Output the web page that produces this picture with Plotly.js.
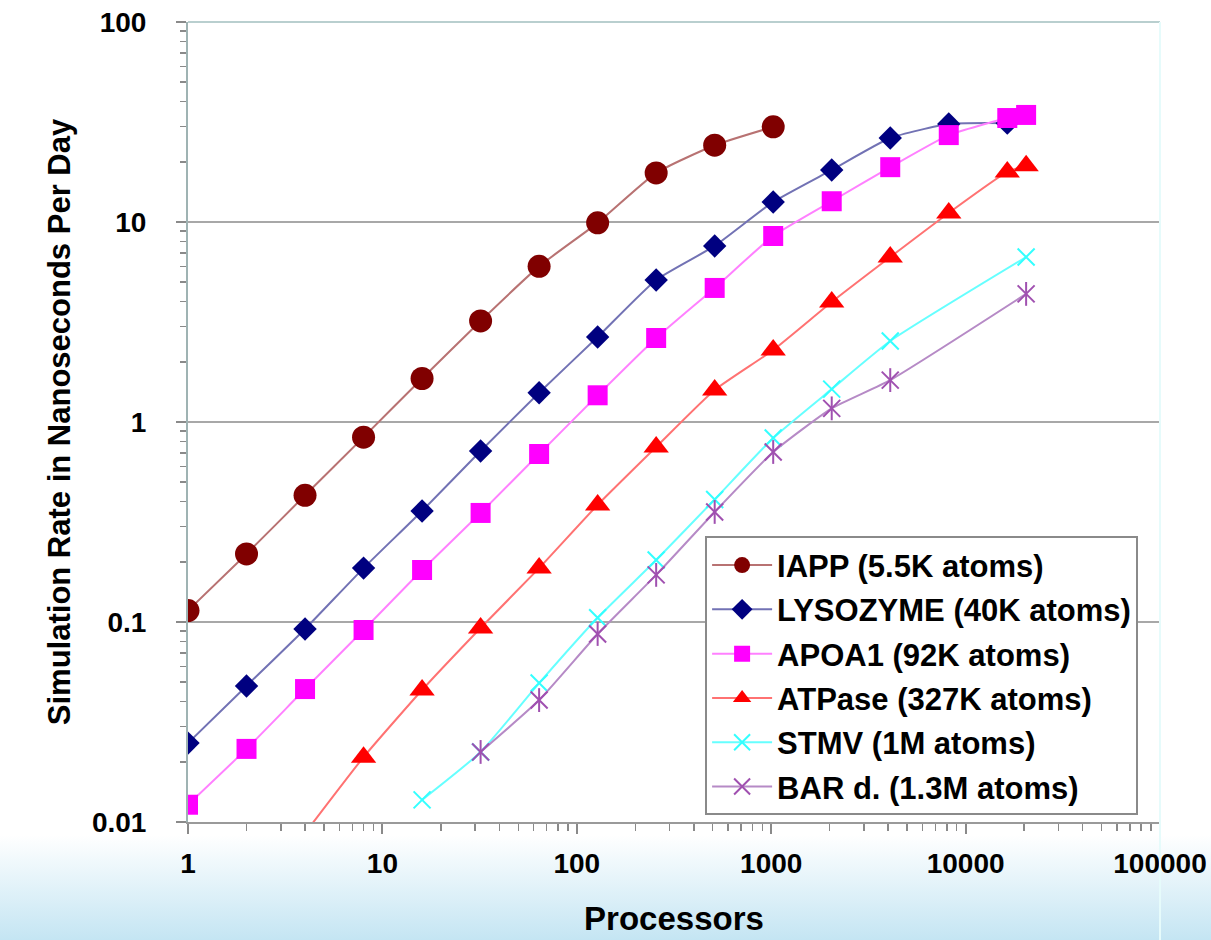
<!DOCTYPE html>
<html>
<head>
<meta charset="utf-8">
<script src="https://cdn.plot.ly/plotly-3.0.1.min.js"></script>
<style>
  html, body { margin: 0; padding: 0; }
  body {
    width: 1211px; height: 940px; overflow: hidden;
    background: linear-gradient(to bottom, #ffffff 0px, #ffffff 835px, #c4e5f3 940px);
  }
  #chart { width: 1211px; height: 940px; }
</style>
</head>
<body>
<div id="chart"></div>
<script>
// ---- data ----
const seriesNames = [
  'IAPP (5.5K atoms)',
  'LYSOZYME (40K atoms)',
  'APOA1 (92K atoms)',
  'ATPase (327K atoms)',
  'STMV (1M atoms)',
  'BAR d. (1.3M atoms)'
];

const procIAPP = [1, 2, 4, 8, 16, 32, 64, 128, 256, 512, 1024];
const rateIAPP = [0.114, 0.219, 0.43, 0.84, 1.65, 3.2, 6.0, 9.9, 17.6, 24.2, 29.9];

const procLYSO = [1, 2, 4, 8, 16, 32, 64, 128, 256, 512, 1024, 2048, 4096, 8192, 16384];
const rateLYSO = [0.0248, 0.0479, 0.0923, 0.186, 0.359, 0.716, 1.40, 2.66, 5.13, 7.59, 12.6, 18.2, 26.3, 30.9, 31.2];

const procAPOA1 = [1, 2, 4, 8, 16, 32, 64, 128, 256, 512, 1024, 2048, 4096, 8192, 16384, 20480];
const rateAPOA1 = [0.0122, 0.0232, 0.0462, 0.0912, 0.182, 0.351, 0.692, 1.36, 2.63, 4.68, 8.51, 12.7, 18.8, 27.2, 33.1, 34.3];

const procATP = [4, 8, 16, 32, 64, 128, 256, 512, 1024, 2048, 4096, 8192, 16384, 20480];
const rateATP = [0.0088, 0.0211, 0.0457, 0.0933, 0.186, 0.385, 0.75, 1.445, 2.29, 3.98, 6.68, 11.1, 17.8, 19.1];

const procSTMV = [16, 32, 64, 128, 256, 512, 1024, 2048, 4096, 20480];
const rateSTMV = [0.0129, 0.0224, 0.0495, 0.105, 0.204, 0.41, 0.832, 1.46, 2.54, 6.68];

const procBAR = [32, 64, 128, 256, 512, 1024, 2048, 4096, 20480];
const rateBAR = [0.0224, 0.0407, 0.0871, 0.172, 0.355, 0.708, 1.17, 1.62, 4.37];

const xTickVals = [1, 10, 100, 1000, 10000, 100000];
const xTickText = ['1', '10', '100', '1000', '10000', '100000'];
const yTickVals = [0.01, 0.1, 1, 10, 100];
const yTickText = ['0.01', '0.1', '1', '10', '100'];

// ---- styling ----
const FONT = '"Liberation Sans", Arial, Helvetica, sans-serif';

function series(name, xs, ys, group, lineColor, mColor, symbol, size, open) {
  const marker = { symbol: symbol, size: size, color: mColor };
  if (open) marker.line = { color: mColor, width: 2 };
  return {
    type: 'scatter', mode: 'lines+markers', name: name,
    x: xs, y: ys, legendgroup: group,
    line: { color: lineColor, width: 2, shape: 'spline', smoothing: 0.5 },
    marker: marker
  };
}

const traces = [
  series(seriesNames[0], procIAPP, rateIAPP, 'g0', '#b87272', '#800000', 'circle', 23, false),
  series(seriesNames[1], procLYSO, rateLYSO, 'g1', '#7272b4', '#000080', 'diamond', 18, false),
  series(seriesNames[2], procAPOA1, rateAPOA1, 'g2', '#ff80ff', '#ff00ff', 'square', 20, false),
  series(seriesNames[3], procATP, rateATP, 'g3', '#ff7272', '#ff0000', 'triangle-up', 22, false),
  series(seriesNames[4], procSTMV, rateSTMV, 'g4', '#66ffff', '#33ffff', 'x-thin-open', 17, true),
  series(seriesNames[5], procBAR, rateBAR, 'g5', '#b68ac6', '#a050b0', 'x-thin-open', 17, true),
  {
    type: 'scatter', mode: 'markers', x: procBAR, y: rateBAR, legendgroup: 'g5',
    showlegend: false, hoverinfo: 'skip',
    marker: { symbol: 'line-ns-open', size: 17, color: '#a050b0', line: { color: '#a050b0', width: 2 } }
  }
];

const layout = {
  width: 1211, height: 940,
  margin: { l: 188, r: 51, t: 22, b: 118 },
  paper_bgcolor: 'rgba(0,0,0,0)',
  plot_bgcolor: '#ffffff',
  font: { family: FONT, color: '#000000' },
  showlegend: true,
  xaxis: {
    type: 'log', range: [0, 5],
    tickvals: xTickVals, ticktext: xTickText,
    tickfont: { family: FONT, size: 28, weight: 'bold', color: '#000' },
    ticks: 'outside', ticklen: 10, tickwidth: 2, tickcolor: '#8a8a8a',
    ticklabelstandoff: 5,
    minor: { ticks: 'outside', ticklen: 7, tickwidth: 1.5, tickcolor: '#8a8a8a', dtick: 'D1', showgrid: false },
    showgrid: false, showline: true, linecolor: '#9a9a9a', linewidth: 2,
    title: { text: 'Processors', font: { family: FONT, size: 33, weight: 'bold', color: '#000' }, standoff: 29 }
  },
  yaxis: {
    type: 'log', range: [-2, 2],
    tickvals: yTickVals, ticktext: yTickText,
    tickfont: { family: FONT, size: 28, weight: 'bold', color: '#000' },
    ticks: 'outside', ticklen: 10, tickwidth: 2, tickcolor: '#8a8a8a',
    ticklabelstandoff: 24,
    minor: { ticks: 'outside', ticklen: 6, tickwidth: 1.5, tickcolor: '#8a8a8a', dtick: 'D1', showgrid: false },
    showgrid: true, gridcolor: '#a8a8a8', gridwidth: 2,
    showline: true, linecolor: '#9fb3b3', linewidth: 2,
    title: { text: 'Simulation Rate in Nanoseconds Per Day', font: { family: FONT, size: 31, weight: 'bold', color: '#000' }, standoff: 12 }
  },
  legend: {
    x: 0.532, y: 0.357, xanchor: 'left', yanchor: 'top',
    bgcolor: '#ffffff', bordercolor: '#8a8a8a', borderwidth: 2,
    font: { family: FONT, size: 31, weight: 'bold', color: '#000' },
    tracegroupgap: 1, itemwidth: 60
  },
  shapes: [
    { type: 'line', xref: 'paper', yref: 'paper', x0: 0, x1: 1, y0: 1, y1: 1,
      line: { color: '#b9cfcf', width: 2 } },
    { type: 'line', xref: 'paper', yref: 'paper', x0: 1, x1: 1, y0: -0.15, y1: 1,
      line: { color: '#e6fbfb', width: 2 } }
  ]
};

Plotly.newPlot('chart', traces, layout, { displayModeBar: false, staticPlot: true });
</script>
</body>
</html>
